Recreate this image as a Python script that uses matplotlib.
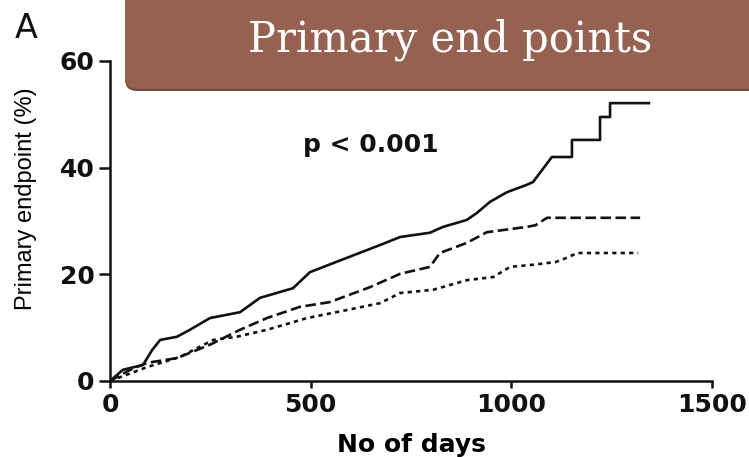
import matplotlib
matplotlib.use("Agg")
import matplotlib.pyplot as plt
from matplotlib.patches import FancyBboxPatch

# ---- data ----
solid_days = [0, 32, 82, 105, 125, 167, 199, 249, 324, 374, 456, 498, 556, 673, 723,
              797, 830, 889, 914, 947, 989, 1039, 1054, 1071, 1101, 1151, 1151, 1221,
              1221, 1246, 1246, 1346]
solid_pct = [0, 2.1, 3.0, 5.8, 7.7, 8.3, 9.6, 11.8, 12.9, 15.6, 17.4, 20.4, 22.1, 25.5, 27.0,
             27.8, 28.9, 30.2, 31.5, 33.6, 35.4, 36.8, 37.3, 39.0, 42.0, 42.0, 45.2, 45.2,
             49.5, 49.5, 52.1, 52.1]

dashed_days = [0, 50, 92, 167, 249, 324, 391, 473, 548, 648, 723, 797, 822, 889, 939,
               1039, 1060, 1089, 1321]
dashed_pct = [0, 2.1, 3.4, 4.3, 6.8, 9.6, 11.8, 13.9, 14.8, 17.6, 20.1, 21.4, 24.0, 25.9, 27.9,
              28.9, 29.2, 30.6, 30.6]

dotted_days = [0, 92, 174, 257, 316, 391, 491, 590, 673, 723, 805, 889, 955, 997, 1054,
               1110, 1138, 1164, 1316]
dotted_pct = [0, 2.6, 4.5, 7.7, 8.3, 9.6, 11.8, 13.3, 14.6, 16.5, 17.1, 18.9, 19.5, 21.4, 21.8,
              22.3, 23.1, 24.0, 24.0]

x_ticks = [0, 500, 1000, 1500]
y_ticks = [0, 20, 40, 60]
title_text = "Primary end points"
panel_label = "A"
p_text = "p < 0.001"
x_label = "No of days"
y_label = "Primary endpoint (%)"

W, H = 749, 457
fig = plt.figure(figsize=(W / 100, H / 100), dpi=100)
fig.patch.set_facecolor("white")

# axes placed in pixel terms
left, right, bottom_px, top_px = 110, 712, 381, 61
ax = fig.add_axes([left / W, (H - bottom_px) / H, (right - left) / W, (bottom_px - top_px) / H])

lw = 1.9
ax.plot(solid_days, solid_pct, color="#111111", lw=lw, solid_capstyle="butt")
ax.plot(dashed_days, dashed_pct, color="#111111", lw=lw, linestyle=(0, (4, 1.7)))
ax.plot(dotted_days, dotted_pct, color="#111111", lw=lw, linestyle=(0, (1.6, 1.6)))

ax.set_xlim(0, 1500)
ax.set_ylim(0, 60)
ax.set_xticks(x_ticks)
ax.set_yticks(y_ticks)
for s in ("top", "right"):
    ax.spines[s].set_visible(False)
for s in ("left", "bottom"):
    ax.spines[s].set_linewidth(1.8)
    ax.spines[s].set_color("#111111")
ax.tick_params(axis="x", direction="out", length=5, width=1.8, pad=4, colors="#111111")
ax.tick_params(axis="y", direction="out", length=8, width=1.8, pad=3, colors="#111111")
for lab in ax.get_xticklabels() + ax.get_yticklabels():
    lab.set_fontfamily("DejaVu Sans")
    lab.set_fontweight("bold")
    lab.set_fontsize(18)

ax.set_xlabel(x_label, fontfamily="DejaVu Sans", fontweight="bold", fontsize=18)
ax.xaxis.label.set_va("baseline")
ax.xaxis.set_label_coords(0.5, (bottom_px - 452) / (bottom_px - top_px))

ax.set_ylabel(y_label, fontfamily="Liberation Sans", fontsize=17)
ax.yaxis.label.set_va("center")
ax.yaxis.set_label_coords((26 - left) / (right - left), (bottom_px - 199) / (bottom_px - top_px))

ax.text(650, 42.9, p_text, ha="center", va="baseline", fontfamily="DejaVu Sans",
        fontweight="bold", fontsize=18, color="#111111")

# panel label
fig.text(15 / W, 1 - 38 / H, panel_label, ha="left", va="baseline",
         fontfamily="DejaVu Sans", fontsize=24, color="#111111")

# title banner (pixel-inch coordinates)
shadow = FancyBboxPatch((1.25, (H - 91) / 100), 7.0, 1.5,
                        boxstyle="round,pad=0,rounding_size=0.12",
                        transform=fig.dpi_scale_trans, facecolor="#6f4a3d",
                        edgecolor="none", zorder=5)
banner = FancyBboxPatch((1.25, (H - 89) / 100), 7.0, 1.5,
                        boxstyle="round,pad=0,rounding_size=0.12",
                        transform=fig.dpi_scale_trans, facecolor="#956150",
                        edgecolor="none", zorder=6)
fig.patches.extend([shadow, banner])
fig.text(450 / W, 1 - 51.7 / H, title_text, ha="center", va="baseline",
         fontfamily="DejaVu Serif", fontsize=30, color="white", zorder=7)

fig.savefig("out.png", dpi=100, facecolor="white")
